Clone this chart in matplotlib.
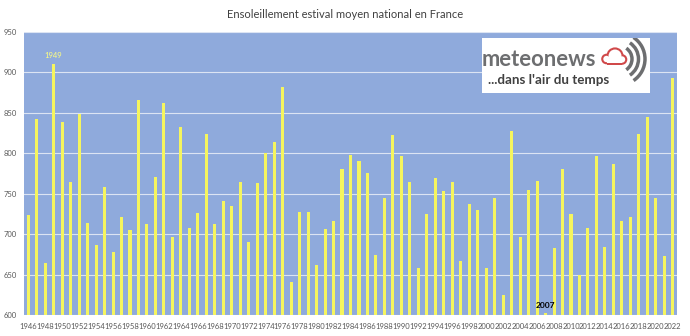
import matplotlib

matplotlib.use("Agg")
import matplotlib.pyplot as plt
from matplotlib.patches import Arc, Circle, Rectangle

plt.rcParams["font.family"] = ["Lato", "DejaVu Sans"]

years = list(range(1946, 2023))
sunshine = [
    724, 842, 664, 910, 839, 764, 849, 714, 686, 758,
    678, 721, 705, 866, 713, 771, 862, 696, 833, 708,
    726, 824, 712, 741, 735, 765, 690, 763, 800, 814,
    882, 641, 728, 728, 662, 706, 716, 780, 798, 791,
    776, 674, 745, 823, 797, 765, 658, 725, 769, 753,
    765, 667, 737, 730, 658, 745, 625, 828, 697, 755,
    766, 602, 683, 780, 725, 650, 707, 797, 684, 787,
    716, 721, 824, 845, 745, 673, 893,
]
tick_years = years[::2]

BG = "#8faadc"
BAR = "#f5f55e"
GREY = "#595959"

fig = plt.figure(figsize=(6.9, 3.36), dpi=100)
ax = fig.add_axes([24 / 690, 1 - 315 / 336, 653 / 690, 283 / 336])
ax.set_facecolor(BG)

x = list(range(len(years)))
ax.bar(x, sunshine, width=0.36, color=BAR, zorder=3)

ax.set_xlim(-0.5, len(years) - 0.5)
ax.set_ylim(600, 950)
ax.set_yticks(range(600, 951, 50))
ax.set_xticks([years.index(y) for y in tick_years])
ax.set_xticklabels([str(y) for y in tick_years])
ax.tick_params(axis="both", length=0, labelsize=5.5, colors=GREY)
ax.tick_params(axis="x", pad=5.5)
ax.tick_params(axis="y", pad=5)
ax.grid(True, axis="y", color="#dce4f3", linewidth=0.8, zorder=1)
for s in ax.spines.values():
    s.set_visible(False)

# highlight the record and the minimum
i49 = years.index(1949)
ax.annotate("1949", (i49, sunshine[i49]), xytext=(0, 4), textcoords="offset points",
            ha="center", va="bottom", fontsize=5.5, color="#ffff80", zorder=4)
i07 = years.index(2007)
ax.text(i07, 612, "2007", ha="center", va="center", fontsize=6,
        fontweight="bold", color="black", zorder=4)

fig.text(0.5, 1 - 14 / 336, "Ensoleillement estival moyen national en France",
         ha="center", va="center", fontsize=8, color="#404040")

# meteonews logo box (pixel coordinates inside)
lg = fig.add_axes([482 / 690, 1 - 93 / 336, 168 / 690, 55 / 336])
lg.set_xlim(0, 168)
lg.set_ylim(0, 55)
lg.set_facecolor("white")
lg.set_xticks([])
lg.set_yticks([])
for s in lg.spines.values():
    s.set_visible(False)

lg.text(0, 27, "meteonews", ha="left", va="baseline", fontsize=15.8,
        fontweight="bold", color="#6d6e70")
lg.text(6, 8.7, "...dans l'air du temps", ha="left", va="baseline", fontsize=9.6,
        fontweight="bold", color="#404040")

# outlined cloud: red discs first, white discs on top leave the rim
red = "#d0494a"
parts = [((133, 37), 6.5), ((124.5, 34), 3.2), ((140, 33.5), 3.2)]
t = 2.1
for c, r in parts:
    lg.add_patch(Circle(c, r + t, color=red, lw=0))
lg.add_patch(Rectangle((124.5, 30.3 - t), 15.5, 4 + t, color=red, lw=0))
for c, r in parts:
    lg.add_patch(Circle(c, r, color="white", lw=0))
lg.add_patch(Rectangle((124.5, 30.3), 15.5, 4, color="white", lw=0))

for rad in (13, 19.5, 26):
    lg.add_patch(Arc((137, 34), 2 * rad, 2 * rad, theta1=-56, theta2=56,
                     color="#6d6e70", lw=2.5))

fig.savefig("out.png", dpi=100)
